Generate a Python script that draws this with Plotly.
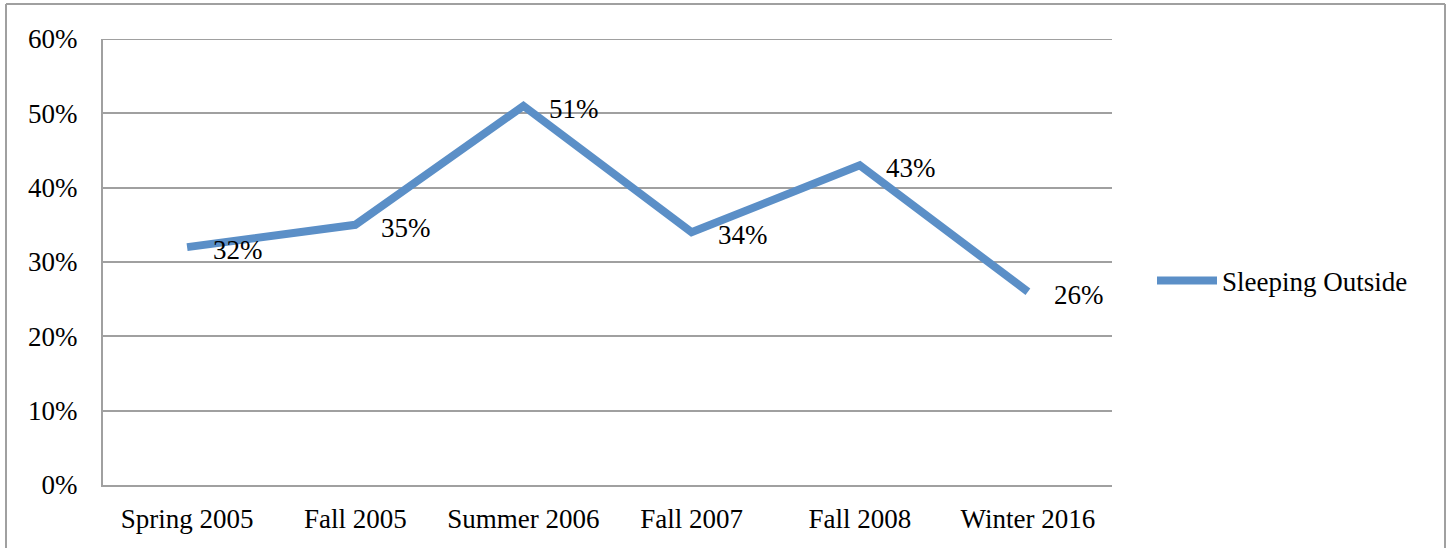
import plotly.graph_objects as go

categories = ["Spring 2005", "Fall 2005", "Summer 2006", "Fall 2007", "Fall 2008", "Winter 2016"]
sleeping_outside = [32, 35, 51, 34, 43, 26]
y_ticks = [0, 10, 20, 30, 40, 50, 60]
y_tick_labels = [f"{v}%" for v in y_ticks]
series_name = "Sleeping Outside"

FONT = "Liberation Serif"
LINE_COLOR = "#5B8FC7"
GRID = "#A0A0A0"

W, H = 1452, 548
L, R, T, B = 103, 340, 39, 63
pw, ph = W - L - R, H - T - B

fig = go.Figure()
fig.add_trace(go.Scatter(
    x=categories, y=sleeping_outside, mode="lines", name=series_name,
    line=dict(color=LINE_COLOR, width=8),
))

for c, v in zip(categories, sleeping_outside):
    fig.add_annotation(
        x=c, y=v, text=f"{v}%", showarrow=False, xanchor="left", yanchor="middle",
        xshift=24, yshift=-3, font=dict(family=FONT, size=27, color="#000000"),
    )

def px(x):
    return (x - L) / pw

def py(y):
    return (H - B - y) / ph

# top gridline (at the top edge of the range)
fig.add_shape(type="line", xref="paper", yref="y", x0=0, x1=1, y0=y_ticks[-1], y1=y_ticks[-1],
              line=dict(color=GRID, width=2), layer="below")

# outer chart border (top, left, right)
fig.add_shape(type="line", xref="paper", yref="paper", x0=px(6), x1=px(1445), y0=py(4), y1=py(4),
              line=dict(color=GRID, width=2))
fig.add_shape(type="line", xref="paper", yref="paper", x0=px(6), x1=px(6), y0=py(4), y1=py(560),
              line=dict(color=GRID, width=2))
fig.add_shape(type="line", xref="paper", yref="paper", x0=px(1445), x1=px(1445), y0=py(4), y1=py(560),
              line=dict(color=GRID, width=2))

fig.update_layout(
    width=W, height=H,
    margin=dict(l=L, r=R, t=T, b=B, pad=0),
    paper_bgcolor="white", plot_bgcolor="white",
    font=dict(family=FONT, size=27, color="#000000"),
    showlegend=True,
    legend=dict(x=px(1152), y=py(281), xanchor="left", yanchor="middle",
                font=dict(family=FONT, size=27), itemwidth=60, bgcolor="rgba(0,0,0,0)"),
    xaxis=dict(
        type="category", range=[-0.5, 5.5], showgrid=False,
        showline=True, linecolor=GRID, linewidth=2, ticks="", ticklabelstandoff=9,
        tickfont=dict(family=FONT, size=27), fixedrange=True,
    ),
    yaxis=dict(
        range=[0, 60], tickvals=y_ticks, ticktext=y_tick_labels,
        showgrid=True, gridcolor=GRID, gridwidth=2, zeroline=False,
        showline=True, linecolor=GRID, linewidth=2, ticks="", ticklabelstandoff=18,
        tickfont=dict(family=FONT, size=27), fixedrange=True,
    ),
)

fig.write_html(
    "out.html",
    config={"displayModeBar": False},
    post_script="document.body.style.margin='0';document.body.style.overflow='hidden';",
)
